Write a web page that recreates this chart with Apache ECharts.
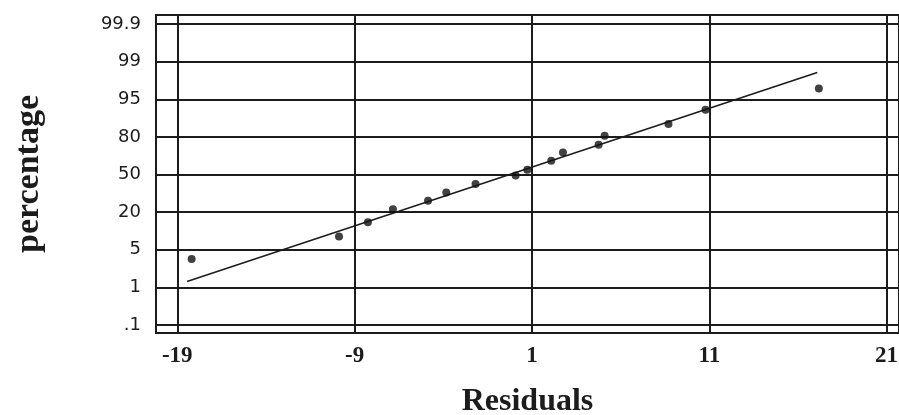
<!DOCTYPE html>
<html>
<head>
<meta charset="utf-8">
<script src="https://cdn.jsdelivr.net/npm/echarts@6/dist/echarts.min.js"></script>
<style>
  html, body { margin: 0; padding: 0; background: #ffffff; }
  #chart { width: 899px; height: 415px; }
</style>
</head>
<body>
<div id="chart"></div>
<script>
// Residuals (x) and cumulative percentage (y)
const residuals   = [-18.19, -9.88, -8.25, -6.84, -4.86, -3.83, -2.18, 0.08, 0.74, 2.09, 2.75, 4.76, 5.10, 8.70, 10.79, 17.18];
const percentages = [4.6, 10.8, 17.1, 24.5, 30.0, 36.0, 42.4, 49.2, 53.7, 60.8, 67.0, 72.3, 78.0, 84.3, 90.2, 95.7];

// Fitted reference line (two end points)
const fitResiduals   = [-18.45, 17.09];
const fitPercentages = [1.64, 97.9];

// Axis tick labels
const xTickValues = [-19, -9, 1, 11, 21];
const yTickLabels = ['.1', '1', '5', '20', '50', '80', '95', '99', '99.9'];

// Normal-probability scale: percentage -> z score (Acklam inverse normal)
function probit(pct) {
  const p = pct / 100;
  const a = [-3.969683028665376e+01, 2.209460984245205e+02, -2.759285104469687e+02, 1.383577518672690e+02, -3.066479806614716e+01, 2.506628277459239e+00];
  const b = [-5.447609879822406e+01, 1.615858368580409e+02, -1.556989798598866e+02, 6.680131188771972e+01, -1.328068155288572e+01];
  const c = [-7.784894002430293e-03, -3.223964580411365e-01, -2.400758277161838e+00, -2.549732539343734e+00, 4.374664141464968e+00, 2.938163982698783e+00];
  const d = [7.784695709041462e-03, 3.224671290700398e-01, 2.445134137142996e+00, 3.754408661907416e+00];
  const pl = 0.02425, ph = 1 - pl;
  let q, r;
  if (p < pl) {
    q = Math.sqrt(-2 * Math.log(p));
    return (((((c[0]*q+c[1])*q+c[2])*q+c[3])*q+c[4])*q+c[5]) / ((((d[0]*q+d[1])*q+d[2])*q+d[3])*q+1);
  } else if (p <= ph) {
    q = p - 0.5; r = q * q;
    return (((((a[0]*r+a[1])*r+a[2])*r+a[3])*r+a[4])*r+a[5])*q / (((((b[0]*r+b[1])*r+b[2])*r+b[3])*r+b[4])*r+1);
  } else {
    q = Math.sqrt(-2 * Math.log(1 - p));
    return -(((((c[0]*q+c[1])*q+c[2])*q+c[3])*q+c[4])*q+c[5]) / ((((d[0]*q+d[1])*q+d[2])*q+d[3])*q+1);
  }
}

// Probability-paper tick positions (z), one per label, 0.75 z apart centred on 50%
const yTickZ = yTickLabels.map((_, i) => (i - (yTickLabels.length - 1) / 2) * 0.75);
const zToLabel = {};
yTickZ.forEach((z, i) => { zToLabel[z.toFixed(2)] = yTickLabels[i]; });

const points = residuals.map((x, i) => [x, probit(percentages[i])]);
const fitLine = fitResiduals.map((x, i) => [x, probit(fitPercentages[i])]);

const ink = '#1c1c1c';
const chart = echarts.init(document.getElementById('chart'), null, { renderer: 'canvas' });
chart.setOption({
  backgroundColor: '#ffffff',
  animation: false,
  grid: {
    left: 156, right: 0, top: 15, bottom: 82,
    outerBoundsMode: 'none',
    containLabel: false,
    show: true, borderColor: ink, borderWidth: 2, backgroundColor: 'transparent'
  },
  xAxis: {
    type: 'value',
    min: -20.2, max: 21.7,
    name: 'Residuals',
    nameLocation: 'middle',
    nameGap: 53,
    nameTextStyle: { fontFamily: 'Liberation Serif', fontWeight: 'bold', fontSize: 32, color: ink },
    axisLine: { show: false },
    axisTick: { show: false, customValues: xTickValues },
    axisLabel: {
      customValues: xTickValues,
      fontFamily: 'Liberation Serif', fontWeight: 'bold', fontSize: 23, color: ink, margin: 12
    },
    splitLine: { show: true, lineStyle: { color: ink, width: 2 } }
  },
  yAxis: {
    type: 'value',
    min: -3.16, max: 3.18,
    name: 'percentage',
    nameLocation: 'middle',
    nameRotate: 90,
    nameGap: 110,
    nameTextStyle: { fontFamily: 'Liberation Serif', fontWeight: 'bold', fontSize: 34, color: ink },
    axisLine: { show: false },
    axisTick: { show: false, customValues: yTickZ },
    axisLabel: {
      customValues: yTickZ,
      formatter: v => zToLabel[(+v).toFixed(2)] || '',
      fontFamily: 'DejaVu Sans', fontSize: 18, color: ink, margin: 15
    },
    splitLine: { show: true, lineStyle: { color: ink, width: 2 } }
  },
  series: [
    {
      type: 'line',
      data: fitLine,
      symbol: 'none',
      lineStyle: { color: ink, width: 1.6 },
      z: 3
    },
    {
      type: 'scatter',
      data: points,
      symbol: 'circle',
      symbolSize: 8,
      itemStyle: { color: '#111111' },
      z: 4
    }
  ]
});
</script>
</body>
</html>
